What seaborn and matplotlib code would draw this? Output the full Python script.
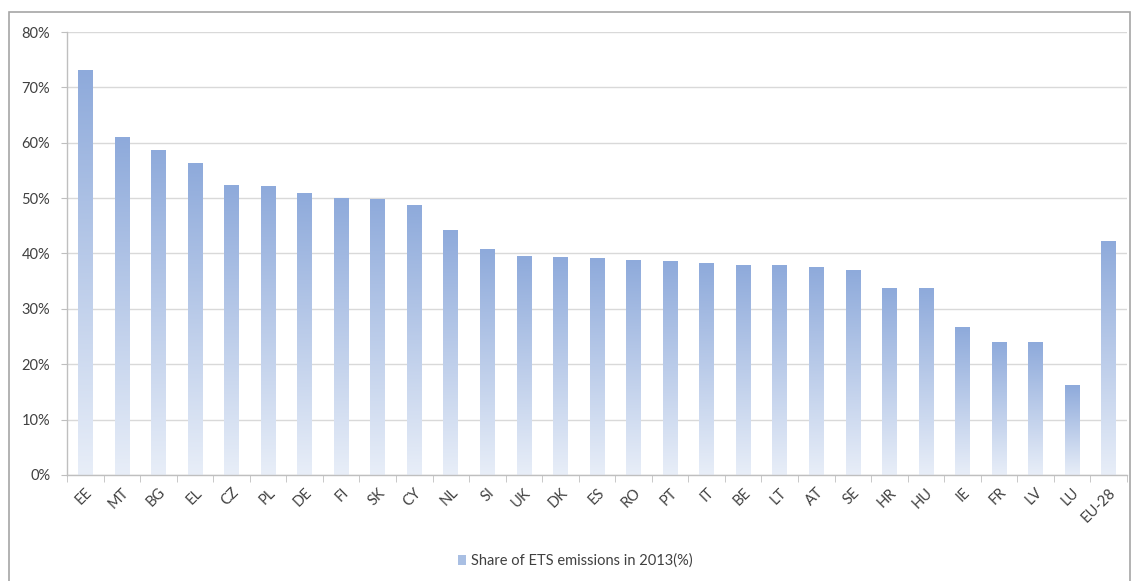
import numpy as np
import pandas as pd
import seaborn as sns
import matplotlib.pyplot as plt
from matplotlib.patches import Rectangle
from matplotlib.colors import LinearSegmentedColormap
from matplotlib.ticker import PercentFormatter, FixedLocator

countries = ['EE', 'MT', 'BG', 'EL', 'CZ', 'PL', 'DE', 'FI', 'SK', 'CY', 'NL', 'SI', 'UK', 'DK',
             'ES', 'RO', 'PT', 'IT', 'BE', 'LT', 'AT', 'SE', 'HR', 'HU', 'IE', 'FR', 'LV', 'LU', 'EU-28']
share = [73.1, 61.0, 58.7, 56.3, 52.3, 52.2, 51.0, 50.1, 49.9, 48.8, 44.3, 40.8, 39.5, 39.4,
         39.1, 38.9, 38.7, 38.2, 38.0, 37.9, 37.6, 37.0, 33.7, 33.7, 26.7, 24.1, 24.0, 16.2, 42.3]

df = pd.DataFrame({'country': countries, 'share': share})

sns.set_style('white')
plt.rcParams['font.family'] = ['Lato', 'DejaVu Sans']

fig = plt.figure(figsize=(11.33, 5.81), dpi=100)
ax = fig.add_axes([67 / 1133, 1 - 475 / 581, (1127 - 67) / 1133, (475 - 32) / 581])

sns.barplot(data=df, x='country', y='share', color='#8eaadb', width=0.4, ax=ax)

# gradient fill for each bar: darker blue at top, fading out at the bottom
cmap = LinearSegmentedColormap.from_list('fade', ['#e8eef8', '#8eaadb'])
grad = np.linspace(0, 1, 256).reshape(-1, 1)
for p in ax.patches:
    x0, w, h = p.get_x(), p.get_width(), p.get_height()
    im = ax.imshow(grad, cmap=cmap, origin='lower', aspect='auto',
                   extent=[x0, x0 + w, 0, h], zorder=2)
    im.set_clip_path(p)
    p.set_facecolor('none')
    p.set_edgecolor('none')

ax.set_xlim(-0.5, len(countries) - 0.5)
ax.set_ylim(0, 80)
ax.set_yticks(range(0, 81, 10))
ax.yaxis.set_major_formatter(PercentFormatter(decimals=0))
ax.yaxis.grid(True, color='#d9d9d9', linewidth=1)
ax.set_axisbelow(True)
ax.set_xlabel('')
ax.set_ylabel('')

for s in ['top', 'right']:
    ax.spines[s].set_visible(False)
for s in ['left', 'bottom']:
    ax.spines[s].set_color('#bfbfbf')
    ax.spines[s].set_linewidth(1)

# tick marks between categories on x, small outward ticks on y
ax.xaxis.set_minor_locator(FixedLocator(np.arange(-0.5, len(countries), 1)))
ax.tick_params(axis='x', which='minor', bottom=True, length=5, color='#bfbfbf')
ax.tick_params(axis='x', which='major', bottom=False, pad=4)
ax.tick_params(axis='y', left=True, length=4, color='#bfbfbf', labelsize=10.5, labelcolor='#404040', pad=8)
for lbl in ax.get_xticklabels():
    lbl.set_rotation(45)
    lbl.set_ha('right')
    lbl.set_rotation_mode('anchor')
    lbl.set_fontsize(10.5)
    lbl.set_color('#404040')

# legend
handle = Rectangle((0, 0), 1, 1, facecolor='#a9bfe3', edgecolor='none')
fig.legend([handle], ['Share of ETS emissions in 2013(%)'], loc='center',
           bbox_to_anchor=(575 / 1133, 1 - 561 / 581), frameon=False,
           fontsize=10.5, handlelength=0.6, handleheight=0.6, handletextpad=0.3,
           labelcolor='#404040')

# outer chart border
fig.patches.append(Rectangle((9 / 1133, -0.05), (1130 - 9) / 1133, 1 - 12 / 581 + 0.05,
                             transform=fig.transFigure, fill=False,
                             edgecolor='#a6a6a6', linewidth=1.2))

fig.savefig('out.png', dpi=100)
